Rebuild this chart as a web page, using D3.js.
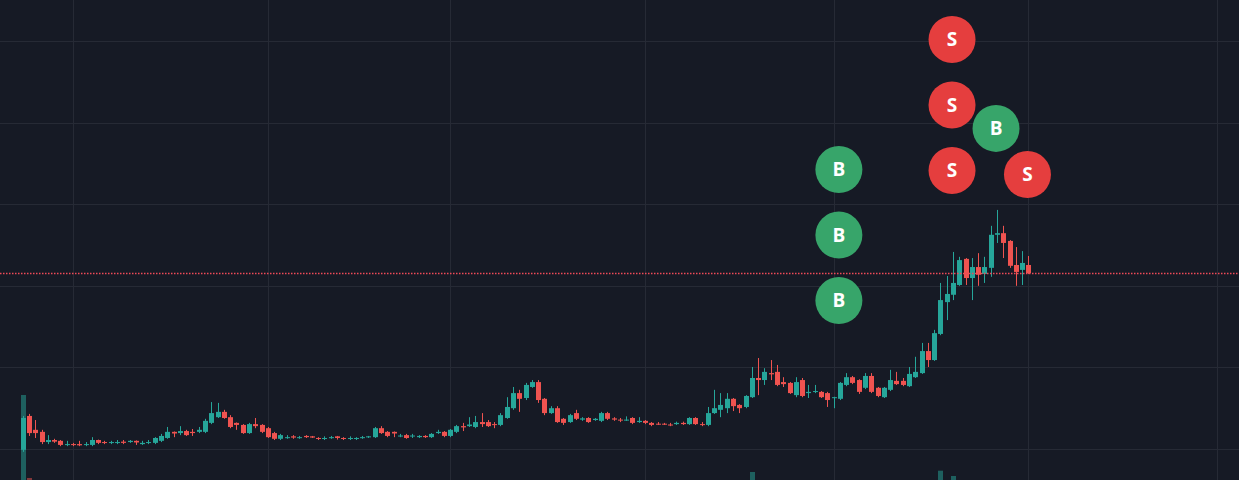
<!DOCTYPE html>
<html>
<head>
<meta charset="utf-8">
<script src="https://cdn.jsdelivr.net/npm/d3@7"></script>
<style>
  html, body { margin: 0; padding: 0; background: #161a25; overflow: hidden; }
  svg { display: block; }
</style>
</head>
<body>
<svg id="chart" width="1239" height="480"></svg>
<script>
// Daily candles, first session 2023-12-24
const firstDay = "2023-12-24";

const opens = [
  0.198,0.281,0.247,0.242,0.217,0.222,0.220,0.210,0.212,0.212,
  0.210,0.210,0.222,0.217,0.215,0.215,0.218,0.217,0.220,0.212,
  0.215,0.215,0.220,0.227,0.242,0.239,0.244,0.242,0.242,0.242,
  0.264,0.278,0.291,0.278,0.264,0.259,0.239,0.261,0.259,0.251,
  0.239,0.225,0.227,0.231,0.227,0.232,0.231,0.227,0.225,0.227,
  0.231,0.227,0.225,0.225,0.227,0.229,0.229,0.251,0.242,0.242,
  0.231,0.234,0.231,0.229,0.232,0.229,0.239,0.242,0.232,0.242,
  0.256,0.256,0.254,0.266,0.266,0.261,0.259,0.276,0.300,0.337,
  0.325,0.352,0.364,0.323,0.288,0.300,0.274,0.266,0.288,0.272,
  0.276,0.271,0.269,0.288,0.275,0.272,0.270,0.276,0.266,0.269,
  0.264,0.262,0.262,0.260,0.261,0.264,0.261,0.276,0.261,0.259,
  0.288,0.296,0.300,0.323,0.308,0.303,0.327,0.374,0.369,0.386,
  0.389,0.364,0.362,0.332,0.369,0.337,0.340,0.340,0.337,0.325,
  0.323,0.357,0.376,0.369,0.350,0.379,0.350,0.327,0.345,0.367,
  0.367,0.354,0.376,0.386,0.440,0.418,0.482,0.560,0.578,0.602,
  0.666,0.619,0.646,0.629,0.644,0.725,0.729,0.710,0.651,0.639,
  0.651
];
const highs = [
  0.281,0.286,0.271,0.247,0.234,0.225,0.222,0.220,0.215,0.220,
  0.217,0.229,0.223,0.220,0.220,0.222,0.222,0.222,0.221,0.220,
  0.222,0.229,0.237,0.254,0.243,0.256,0.247,0.249,0.254,0.274,
  0.315,0.313,0.296,0.283,0.265,0.261,0.264,0.276,0.261,0.254,
  0.242,0.237,0.234,0.234,0.232,0.234,0.232,0.229,0.231,0.232,
  0.232,0.229,0.231,0.229,0.232,0.232,0.254,0.256,0.244,0.243,
  0.237,0.237,0.237,0.234,0.234,0.239,0.247,0.244,0.249,0.259,
  0.264,0.278,0.281,0.288,0.271,0.266,0.288,0.327,0.352,0.345,
  0.362,0.369,0.369,0.325,0.305,0.305,0.276,0.286,0.296,0.278,
  0.278,0.276,0.291,0.291,0.278,0.276,0.280,0.278,0.278,0.271,
  0.266,0.266,0.264,0.264,0.267,0.267,0.278,0.278,0.266,0.303,
  0.345,0.337,0.337,0.325,0.310,0.332,0.401,0.423,0.398,0.418,
  0.406,0.376,0.364,0.376,0.374,0.357,0.357,0.342,0.340,0.328,
  0.364,0.386,0.379,0.371,0.386,0.386,0.352,0.352,0.394,0.389,
  0.374,0.401,0.426,0.460,0.460,0.492,0.607,0.624,0.683,0.671,
  0.668,0.668,0.680,0.671,0.747,0.786,0.747,0.712,0.695,0.685,
  0.673
];
const lows = [
  0.193,0.232,0.227,0.212,0.212,0.215,0.207,0.207,0.207,0.207,
  0.207,0.207,0.212,0.212,0.212,0.212,0.212,0.215,0.210,0.210,
  0.212,0.212,0.217,0.225,0.229,0.234,0.232,0.232,0.239,0.239,
  0.261,0.276,0.274,0.251,0.247,0.237,0.237,0.251,0.239,0.227,
  0.222,0.222,0.225,0.225,0.225,0.227,0.227,0.222,0.222,0.225,
  0.223,0.222,0.222,0.222,0.225,0.227,0.227,0.237,0.229,0.229,
  0.229,0.225,0.227,0.227,0.227,0.227,0.237,0.229,0.229,0.239,
  0.244,0.254,0.251,0.254,0.254,0.251,0.256,0.274,0.296,0.291,
  0.320,0.350,0.313,0.283,0.286,0.264,0.259,0.264,0.271,0.269,
  0.264,0.269,0.266,0.271,0.269,0.266,0.269,0.261,0.264,0.261,
  0.256,0.259,0.259,0.256,0.259,0.259,0.259,0.259,0.256,0.256,
  0.286,0.278,0.288,0.293,0.288,0.300,0.325,0.332,0.357,0.369,
  0.354,0.352,0.335,0.327,0.327,0.325,0.337,0.325,0.303,0.300,
  0.320,0.354,0.359,0.335,0.347,0.337,0.327,0.325,0.342,0.357,
  0.354,0.352,0.374,0.384,0.401,0.416,0.479,0.516,0.565,0.600,
  0.602,0.565,0.600,0.607,0.622,0.705,0.668,0.644,0.600,0.602,
  0.629
];
const closes = [
  0.276,0.239,0.239,0.217,0.222,0.218,0.210,0.212,0.210,0.209,
  0.212,0.222,0.215,0.215,0.217,0.217,0.215,0.220,0.216,0.215,
  0.217,0.227,0.232,0.242,0.238,0.244,0.234,0.239,0.247,0.269,
  0.288,0.291,0.276,0.254,0.259,0.239,0.261,0.256,0.242,0.229,
  0.225,0.234,0.229,0.228,0.229,0.229,0.228,0.225,0.227,0.229,
  0.227,0.225,0.227,0.227,0.229,0.231,0.251,0.239,0.232,0.238,
  0.233,0.227,0.233,0.232,0.229,0.237,0.242,0.232,0.247,0.256,
  0.253,0.260,0.266,0.261,0.256,0.259,0.283,0.303,0.337,0.323,
  0.357,0.364,0.320,0.288,0.300,0.266,0.264,0.283,0.274,0.275,
  0.266,0.274,0.288,0.274,0.272,0.270,0.272,0.264,0.269,0.264,
  0.259,0.260,0.260,0.258,0.264,0.261,0.276,0.261,0.259,0.288,
  0.300,0.308,0.323,0.305,0.300,0.330,0.374,0.369,0.389,0.383,
  0.357,0.359,0.337,0.364,0.330,0.340,0.342,0.327,0.320,0.327,
  0.362,0.376,0.362,0.340,0.379,0.340,0.330,0.350,0.369,0.359,
  0.357,0.384,0.389,0.440,0.418,0.484,0.565,0.580,0.607,0.663,
  0.619,0.646,0.627,0.646,0.725,0.729,0.705,0.649,0.634,0.656,
  0.631
];
const volumes = [
  870,40,15,12,8,6,6,5,5,4,
  4,6,5,4,4,4,4,4,4,3,
  4,6,7,9,6,7,5,5,6,10,
  16,12,9,8,6,6,7,6,5,6,
  5,4,3,3,3,3,3,3,3,3,
  3,3,3,3,3,3,7,6,4,4,
  3,4,3,3,3,4,4,4,5,6,
  6,7,7,8,5,4,8,12,16,14,
  13,10,15,12,8,10,6,6,6,4,
  5,3,6,5,3,3,3,4,3,3,
  3,2,2,2,2,2,4,4,3,10,
  15,12,11,8,6,9,100,18,12,14,
  12,8,9,10,10,7,6,6,8,7,
  14,11,7,9,10,11,7,7,12,8,
  6,12,14,18,17,19,113,18,60,18,
  17,16,14,12,18,17,15,14,13,11,
  8
];

// Trade markers: day and side, stacked above the bar in order
const markerDays  = ["2024-05-02","2024-05-02","2024-05-02","2024-05-20","2024-05-20","2024-05-20","2024-05-27","2024-06-01"];
const markerSides = ["B","B","B","S","S","S","B","S"];

const W = 1239, H = 480;
const upColor = "#26a69a", downColor = "#ef5350";
const buyColor = "#37a56a", sellColor = "#e53e3e";

const start = new Date(firstDay + "T00:00:00Z");
const bars = closes.map((c, i) => ({
  date: d3.utcDay.offset(start, i),
  open: opens[i], high: highs[i], low: lows[i], close: c, volume: volumes[i]
}));

const barSpacing = 6.286;
const x = d3.scaleUtc()
  .domain([start, d3.utcDay.offset(start, 190)])
  .range([22.7, 22.7 + 190 * barSpacing]);

const y = d3.scaleLinear().domain([0.124, 1.3005]).range([H, 0]);
const yVol = d3.scaleLinear().domain([0, 1000]).range([482, 382]);

const svg = d3.select("#chart");
svg.append("rect").attr("width", W).attr("height", H).attr("fill", "#161a25");

// grid
const grid = svg.append("g").attr("stroke", "#262a35").attr("stroke-width", 1);
grid.selectAll("line.h").data(y.ticks(6)).join("line")
  .attr("x1", 0).attr("x2", W)
  .attr("y1", d => Math.round(y(d)) + 0.5).attr("y2", d => Math.round(y(d)) + 0.5);
grid.selectAll("line.v").data(x.ticks(d3.utcMonth.every(1))).join("line")
  .attr("y1", 0).attr("y2", H)
  .attr("x1", d => Math.round(x(d)) + 0.5).attr("x2", d => Math.round(x(d)) + 0.5);

// volume histogram
svg.append("g").selectAll("rect").data(bars).join("rect")
  .attr("x", d => Math.round(x(d.date)) - 2)
  .attr("width", 5)
  .attr("y", d => yVol(d.volume))
  .attr("height", d => yVol(0) - yVol(d.volume))
  .attr("fill", d => d.close >= d.open ? "rgba(38,166,154,0.5)" : "rgba(239,83,80,0.5)");

// candles
const candles = svg.append("g").selectAll("g").data(bars).join("g")
  .attr("fill", d => d.close >= d.open ? upColor : downColor);
candles.append("rect")
  .attr("x", d => Math.round(x(d.date)))
  .attr("width", 1)
  .attr("y", d => y(d.high))
  .attr("height", d => Math.max(1, y(d.low) - y(d.high)));
candles.append("rect")
  .attr("x", d => Math.round(x(d.date)) - 2)
  .attr("width", 5)
  .attr("y", d => y(Math.max(d.open, d.close)))
  .attr("height", d => Math.max(1, Math.abs(y(d.open) - y(d.close))));

// last price line
const last = bars[bars.length - 1];
svg.append("line")
  .attr("x1", 0).attr("x2", W)
  .attr("y1", Math.round(y(last.close)) + 0.5).attr("y2", Math.round(y(last.close)) + 0.5)
  .attr("stroke", "#ef4a58")
  .attr("stroke-width", 1.4).attr("stroke-dasharray", "1.5,1.5");

// trade markers stacked above each bar's high
const byDay = d3.index(bars, d => d3.utcFormat("%Y-%m-%d")(d.date));
const stackCount = {};
const markers = markerDays.map((day, i) => {
  const k = stackCount[day] || 0;
  stackCount[day] = k + 1;
  const bar = byDay.get(day);
  return { bar, side: markerSides[i], k };
});
const mg = svg.append("g").selectAll("g").data(markers).join("g")
  .attr("transform", d => `translate(${x(d.bar.date) - 1},${y(d.bar.high) - 81.5 - d.k * 65.5})`);
mg.append("circle").attr("r", 23.5)
  .attr("fill", d => d.side === "B" ? buyColor : sellColor);
mg.append("text")
  .attr("text-anchor", "middle").attr("dy", "0.36em")
  .attr("fill", "#ffffff")
  .attr("font-family", "'Open Sans', 'Noto Sans', sans-serif")
  .attr("font-weight", "700").attr("font-size", 19)
  .text(d => d.side);
</script>
</body>
</html>
